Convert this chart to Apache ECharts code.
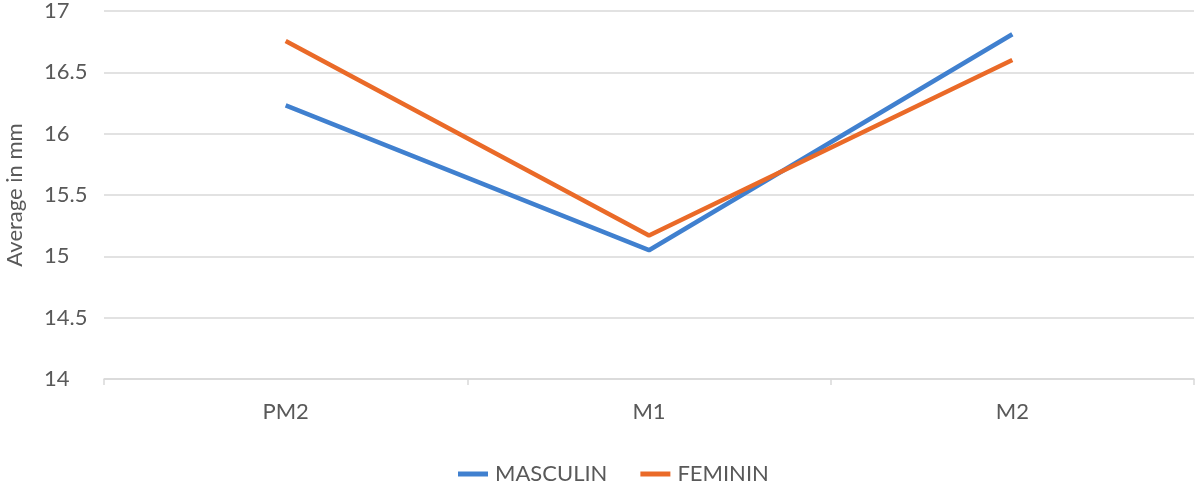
<!DOCTYPE html>
<html><head><meta charset="utf-8">
<script src="https://cdn.jsdelivr.net/npm/echarts@6/dist/echarts.min.js"></script>
<style>html,body{margin:0;padding:0;background:#fff}#c{width:1200px;height:489px}</style>
</head><body><div id="c"></div>
<script>
const categories = ['PM2', 'M1', 'M2'];
const masculin = [16.23, 15.05, 16.81];
const feminin = [16.755, 15.17, 16.60];
const yTicks = { min: 14, max: 17, interval: 0.5 };

const font = 'Lato, "Open Sans", sans-serif';
const blue = '#4080CF';
const orange = '#EA6A28';
const chart = echarts.init(document.getElementById('c'));
chart.setOption({
  animation: false,
  grid: { left: 104, right: 6, top: 11, bottom: 110, containLabel: false, outerBoundsMode: 'none' },
  legend: {
    top: 463, left: 458, padding: 0, itemWidth: 30, itemHeight: 5, itemGap: 33,
    icon: 'rect',
    textStyle: { fontFamily: font, fontSize: 22, color: '#595959', padding: [0, 0, 0, 2] },
    data: ['MASCULIN', 'FEMININ']
  },
  xAxis: {
    type: 'category', data: categories, boundaryGap: true,
    axisLine: { lineStyle: { color: '#d9d9d9', width: 1.5 } },
    axisTick: { show: true, length: 6, lineStyle: { color: '#d9d9d9', width: 1.5 } },
    axisLabel: { fontFamily: font, fontSize: 22, color: '#595959', margin: 22 }
  },
  yAxis: {
    type: 'value', min: yTicks.min, max: yTicks.max, interval: yTicks.interval,
    name: 'Average in mm', nameLocation: 'middle', nameGap: 78, nameRotate: 90,
    nameTextStyle: { fontFamily: font, fontSize: 22, color: '#595959' },
    axisLine: { show: false }, axisTick: { show: false },
    axisLabel: { fontFamily: font, fontSize: 22, color: '#595959', margin: 60, align: 'left' },
    splitLine: { lineStyle: { color: '#d9d9d9', width: 1.5 } }
  },
  series: [
    { name: 'MASCULIN', type: 'line', data: masculin, symbol: 'none',
      lineStyle: { color: blue, width: 4.5 }, itemStyle: { color: blue } },
    { name: 'FEMININ', type: 'line', data: feminin, symbol: 'none',
      lineStyle: { color: orange, width: 4.5 }, itemStyle: { color: orange } }
  ]
});
</script></body></html>
